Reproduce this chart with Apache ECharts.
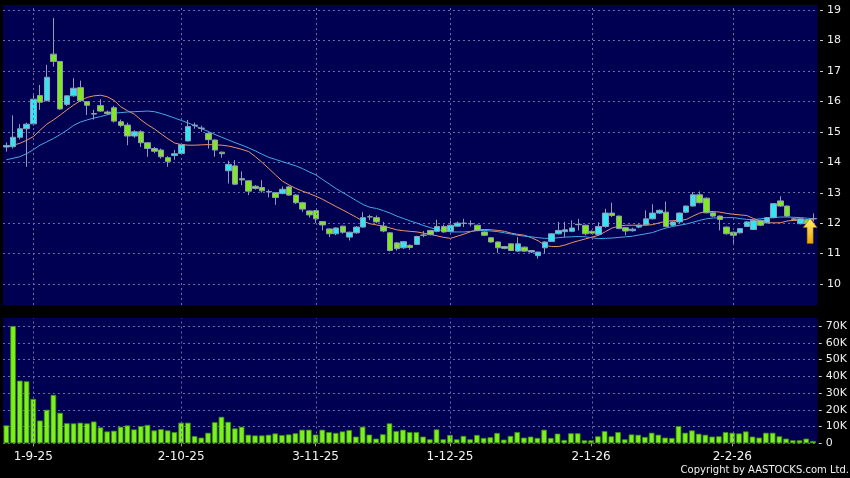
<!DOCTYPE html>
<html><head><meta charset="utf-8">
<script src="https://cdn.jsdelivr.net/npm/echarts@6/dist/echarts.min.js"></script>
<style>html,body{margin:0;padding:0;background:#000;}#c{width:850px;height:478px;}</style>
</head><body><div id="c"></div>
<script>
const categories = [
'26-8-25','27-8-25','28-8-25','29-8-25',
'1-9-25','2-9-25','3-9-25','4-9-25','5-9-25','8-9-25','9-9-25','10-9-25','11-9-25','12-9-25',
'15-9-25','16-9-25','17-9-25','18-9-25','19-9-25','22-9-25','23-9-25','24-9-25','25-9-25','26-9-25','29-9-25','30-9-25',
'2-10-25','3-10-25','6-10-25','8-10-25','9-10-25','10-10-25','13-10-25','14-10-25','15-10-25','16-10-25','17-10-25',
'20-10-25','21-10-25','22-10-25','23-10-25','24-10-25','27-10-25','28-10-25','30-10-25','31-10-25',
'3-11-25','4-11-25','5-11-25','6-11-25','7-11-25','10-11-25','11-11-25','12-11-25','13-11-25','14-11-25',
'17-11-25','18-11-25','19-11-25','20-11-25','21-11-25','24-11-25','25-11-25','26-11-25','27-11-25','28-11-25',
'1-12-25','2-12-25','3-12-25','4-12-25','5-12-25','8-12-25','9-12-25','10-12-25','11-12-25','12-12-25',
'15-12-25','16-12-25','17-12-25','18-12-25','19-12-25','22-12-25','23-12-25','24-12-25','29-12-25','30-12-25','31-12-25',
'2-1-26','5-1-26','6-1-26','7-1-26','8-1-26','9-1-26','12-1-26','13-1-26','14-1-26','15-1-26','16-1-26',
'19-1-26','20-1-26','21-1-26','22-1-26','23-1-26','26-1-26','27-1-26','28-1-26','29-1-26','30-1-26',
'2-2-26','3-2-26','4-2-26','5-2-26','6-2-26','9-2-26','10-2-26','11-2-26','12-2-26','13-2-26','16-2-26','20-2-26','23-2-26'
];
const tickDates = ['1-9-25','2-10-25','3-11-25','1-12-25','2-1-26','2-2-26'];

const opens = [14.5,14.51,14.82,15.1,15.26,16.19,16.02,17.55,17.31,15.9,
16.18,16.45,15.99,15.6,15.86,15.65,15.79,15.33,15.22,14.86,
15.0,14.64,14.45,14.4,14.15,14.22,14.29,14.7,15.2,15.12,
14.95,14.73,14.33,13.72,13.88,13.46,13.39,13.21,13.17,13.04,
13.0,12.97,13.19,12.92,12.67,12.4,12.41,12.05,11.81,11.65,
11.9,11.54,11.68,11.87,12.2,12.18,11.9,11.68,11.35,11.19,
11.27,11.30,11.6,11.76,11.73,11.89,11.73,11.9,12.0,11.98,
11.93,11.71,11.52,11.38,11.23,11.32,11.08,11.21,11.1,10.93,
11.19,11.4,11.65,11.72,11.73,11.96,11.93,11.73,11.63,11.89,
12.33,12.23,11.85,11.75,11.87,11.95,12.14,12.33,12.36,11.93,
12.04,12.36,12.56,12.93,12.82,12.34,12.23,11.87,11.7,11.68,
11.89,11.79,12.09,12.01,12.18,12.73,12.56,12.14,11.98,12.11,
12.14];
const closes = [14.55,14.82,15.1,15.25,16.07,15.97,16.79,17.31,15.75,16.18,
16.43,16.02,15.87,15.58,15.68,15.6,15.35,15.21,14.86,15.0,
14.64,14.45,14.36,14.18,14.02,14.28,14.58,15.17,15.22,15.11,
14.74,14.4,14.28,13.93,13.28,13.42,13.05,13.14,13.06,13.02,
12.84,13.11,12.92,12.67,12.46,12.27,12.14,11.94,11.65,11.84,
11.7,11.7,11.87,12.18,12.21,12.04,11.74,11.1,11.16,11.39,
11.2,11.56,11.61,11.62,11.89,11.71,11.93,12.0,11.99,11.98,
11.76,11.6,11.38,11.19,11.17,11.1,11.32,11.08,11.05,11.05,
11.38,11.65,11.76,11.78,11.84,11.95,11.65,11.67,11.89,12.33,
12.25,11.82,11.74,11.8,11.93,12.14,12.33,12.42,11.89,12.04,
12.33,12.56,12.93,12.67,12.34,12.23,12.12,11.65,11.6,11.82,
12.04,12.09,11.93,12.18,12.64,12.56,12.23,12.12,12.14,11.98,
12.15];
const lows = [14.35,14.45,14.75,13.85,15.2,15.72,16.0,17.14,15.72,15.85,
16.15,15.98,15.55,15.4,15.65,15.55,15.3,15.15,14.56,14.8,
14.5,14.18,14.3,14.12,13.85,14.08,14.25,14.68,15.1,15.0,
14.45,14.18,14.15,13.3,13.25,13.25,12.92,13.1,13.0,12.85,
12.6,12.95,12.9,12.63,12.37,12.18,12.0,11.76,11.54,11.6,
11.65,11.43,11.65,11.85,12.1,12.0,11.7,11.07,11.1,11.15,
11.12,11.28,11.54,11.6,11.7,11.68,11.7,11.88,11.87,11.89,
11.74,11.58,11.36,11.02,11.14,11.08,11.05,11.05,11.02,10.83,
10.99,11.38,11.63,11.54,11.7,11.76,11.6,11.64,11.6,11.85,
12.2,11.8,11.6,11.72,11.83,11.93,12.12,12.3,11.87,11.9,
12.0,12.33,12.54,12.65,12.32,12.2,11.76,11.62,11.34,11.66,
11.87,11.77,11.9,11.99,12.16,12.54,12.21,12.08,11.96,11.76,
12.05];
const highs = [14.65,15.54,15.25,15.3,16.2,16.54,17.2,18.74,17.31,16.2,
16.76,16.68,16.0,15.72,16.07,15.7,15.85,15.4,15.3,15.05,
15.05,14.65,14.5,14.45,14.2,14.4,14.6,15.39,15.3,15.2,
15.0,14.75,14.35,14.05,14.07,13.7,13.4,13.25,13.41,13.1,
13.0,13.2,13.22,12.95,12.7,12.42,12.43,12.06,11.82,11.86,
11.92,11.72,11.9,12.36,12.27,12.25,12.04,11.7,11.38,11.4,
11.3,11.58,11.74,11.78,12.11,11.95,12.09,12.05,12.14,12.09,
11.95,11.73,11.54,11.4,11.25,11.34,11.54,11.23,11.12,11.06,
11.4,11.67,12.04,12.04,12.09,12.14,11.95,11.76,12.03,12.47,
12.67,12.25,11.87,11.85,11.95,12.42,12.62,12.45,12.71,12.06,
12.35,12.58,13.02,13.04,12.84,12.36,12.25,11.89,11.72,11.84,
12.06,12.11,12.11,12.2,12.66,12.88,12.58,12.16,12.16,12.13,
12.32];
const maOrange = [14.52,14.56,14.62,14.72,14.84,15.05,15.25,15.39,15.55,15.72,
15.88,16.02,16.13,16.18,16.2,16.15,16.03,15.82,15.69,15.58,
15.39,15.23,15.09,14.93,14.77,14.63,14.58,14.56,14.56,14.57,
14.58,14.57,14.56,14.53,14.48,14.42,14.35,14.18,13.99,13.79,
13.58,13.38,13.25,13.14,13.05,12.97,12.88,12.78,12.66,12.54,
12.43,12.31,12.19,12.06,11.98,11.94,11.9,11.84,11.78,11.75,
11.73,11.71,11.67,11.63,11.58,11.53,11.5,11.57,11.64,11.72,
11.78,11.79,11.78,11.76,11.73,11.67,11.63,11.6,11.52,11.42,
11.27,11.23,11.23,11.28,11.36,11.42,11.48,11.54,11.6,11.72,
11.84,11.9,11.93,11.93,11.93,11.93,11.95,12.01,12.06,12.08,
12.09,12.12,12.23,12.33,12.39,12.38,12.36,12.32,12.29,12.27,
12.25,12.15,12.07,12.01,12.01,12.01,12.07,12.09,12.09,12.1,
12.11];
const maBlue = [14.08,14.13,14.18,14.28,14.41,14.56,14.67,14.78,14.91,15.05,
15.21,15.32,15.39,15.45,15.5,15.56,15.61,15.63,15.65,15.66,
15.67,15.68,15.66,15.6,15.53,15.45,15.37,15.29,15.2,15.1,
15.01,14.91,14.82,14.73,14.64,14.56,14.47,14.37,14.26,14.16,
14.09,14.02,13.95,13.88,13.79,13.68,13.58,13.43,13.28,13.13,
13.0,12.87,12.74,12.61,12.52,12.48,12.41,12.33,12.23,12.15,
12.07,12.0,11.92,11.85,11.79,11.75,11.71,11.71,11.71,11.73,
11.75,11.76,11.74,11.72,11.68,11.64,11.6,11.57,11.55,11.52,
11.5,11.5,11.52,11.54,11.55,11.56,11.55,11.52,11.49,11.5,
11.51,11.53,11.55,11.57,11.61,11.65,11.69,11.77,11.84,11.89,
11.93,11.97,12.03,12.09,12.14,12.17,12.17,12.18,12.18,12.15,
12.12,12.12,12.14,12.17,12.18,12.2,12.2,12.19,12.18,12.16,
12.14];
const volumeK = [10.7,70,37.4,37,26.5,13.6,20,28.9,18.2,12,
11.9,12.3,11.9,13,9.5,7.1,7.5,9.9,10.7,8.3,
10.3,11,7.7,8.5,7.7,6.7,12.3,12.3,4.3,3.4,
6.3,12.6,15.8,12.8,8.9,9.9,5.1,4.7,4.7,5.1,
5.9,4.9,5.3,6,8.1,8.1,5.2,8.1,6.7,6.2,
7.1,7.9,4,9.9,5.2,2.8,5.4,11.9,7.3,8.1,
6.7,6.7,4,2.4,8.3,2.4,5,2.4,4.4,2.4,
5,3.2,3.6,6.2,2.2,4.4,6.7,3.4,4,3.2,
8.1,3.2,5.8,2,6,6,1.8,1.8,4.2,7.3,
4.2,6.7,2.4,5.3,5.1,3.8,6.3,5.1,3.4,3.2,
10.3,6.3,7.7,5.7,5.1,4,4.2,6.7,6.3,5.9,
7.1,4,3.4,6.3,6.3,4.2,2.8,1.8,1.8,2.8,
1.4];

const FONT = 'DejaVu Sans';
const GRIDC = '#6a6aa6';
const NAVY = '#000052';
const LEFT = 3, RIGHT = 32.5;
const isTick = (i) => tickDates.indexOf(categories[i]) >= 0;
const vLines = tickDates.map(d => ({ xAxis: d }));
const candles = categories.map((c, i) => [opens[i], closes[i], lows[i], highs[i]]);
const dash = { color: GRIDC, type: [2, 3], width: 1 };

const chart = echarts.init(document.getElementById('c'), null, { renderer: 'canvas' });
const hiddenX = (g) => ({ type: 'category', gridIndex: g, data: categories, boundaryGap: true, show: false });
chart.setOption({
  backgroundColor: '#000000',
  animation: false,
  grid: [
    { left: LEFT, right: RIGHT, top: 5, height: 300, show: true, backgroundColor: NAVY, borderWidth: 0 },
    { left: LEFT, right: RIGHT, top: 10, height: 274 },
    { left: LEFT, right: RIGHT, top: 318, height: 125.5, show: true, backgroundColor: NAVY, borderWidth: 0 },
    { left: LEFT, right: RIGHT, top: 326, height: 117.3 }
  ],
  xAxis: [
    hiddenX(0), hiddenX(1), hiddenX(2),
    {
      type: 'category', gridIndex: 3, data: categories, boundaryGap: true, offset: 3,
      axisLine: { show: false },
      axisTick: { show: true, alignWithLabel: true, interval: (i) => isTick(i), length: 3, lineStyle: { color: '#a0a0a0' } },
      axisLabel: { interval: (i) => isTick(i), color: '#f2f2f2', fontSize: 12, fontFamily: FONT, margin: 5 },
      splitLine: { show: false }
    }
  ],
  yAxis: [
    { type: 'value', gridIndex: 0, min: 0, max: 1, show: false },
    {
      type: 'value', gridIndex: 1, position: 'right', min: 10, max: 19, interval: 1,
      axisLine: { show: false }, axisTick: { show: false },
      axisLabel: { formatter: (v) => '- ' + v, color: '#eeeeee', fontSize: 11, fontFamily: FONT, margin: 2 },
      splitLine: { show: true, lineStyle: dash }
    },
    { type: 'value', gridIndex: 2, min: 0, max: 1, show: false },
    {
      type: 'value', gridIndex: 3, position: 'right', min: 0, max: 70, interval: 10,
      axisLine: { show: false }, axisTick: { show: false },
      axisLabel: { formatter: (v) => '- ' + (v ? v + 'K' : '0'), color: '#eeeeee', fontSize: 11, fontFamily: FONT, margin: 2 },
      splitLine: { show: true, lineStyle: dash }
    }
  ],
  series: [
    { type: 'line', xAxisIndex: 0, yAxisIndex: 0, data: [], silent: true,
      markLine: { silent: true, symbol: 'none', label: { show: false }, lineStyle: dash, data: vLines } },
    { type: 'line', xAxisIndex: 2, yAxisIndex: 2, data: [], silent: true,
      markLine: { silent: true, symbol: 'none', label: { show: false }, lineStyle: dash, data: vLines } },
    { name: 'MA1', type: 'line', xAxisIndex: 1, yAxisIndex: 1, data: maOrange, symbol: 'none', z: 2,
      lineStyle: { color: '#ec9468', width: 1 } },
    { name: 'MA2', type: 'line', xAxisIndex: 1, yAxisIndex: 1, data: maBlue, symbol: 'none', z: 2,
      lineStyle: { color: '#45a8e8', width: 1 } },
    { type: 'candlestick', xAxisIndex: 1, yAxisIndex: 1, data: candles, barWidth: 6, z: 3,
      itemStyle: { color: '#33e4f2', color0: '#80e81e', borderColor: '#8e9cb4', borderColor0: '#8e9cb4', borderWidth: 1 },
      markPoint: {
        silent: true,
        symbol: 'path://M7,0 L14,9 L10,9 L10,25 L4,25 L4,9 L0,9 Z',
        symbolSize: [14, 25],
        symbolOffset: [-4, '50%'],
        label: { show: false },
        itemStyle: {
          color: new echarts.graphic.LinearGradient(0, 0, 0, 1, [
            { offset: 0, color: '#fff27a' }, { offset: 1, color: '#f0a400' }
          ]),
          borderColor: '#a07000', borderWidth: 0.5
        },
        data: [{ coord: [categories[categories.length - 1], closes[closes.length - 1]] }]
      }
    },
    { type: 'bar', xAxisIndex: 3, yAxisIndex: 3, data: volumeK, barWidth: 5.6,
      itemStyle: { color: '#7cf01e', borderColor: '#3e8e0a', borderWidth: 0.8 } }
  ],
  graphic: [
    { type: 'text', right: 1, top: 465,
      style: { text: 'Copyright by AASTOCKS.com Ltd.', fill: '#f0f0f0', font: '10px "DejaVu Sans"' } }
  ]
});
</script>
</body></html>
